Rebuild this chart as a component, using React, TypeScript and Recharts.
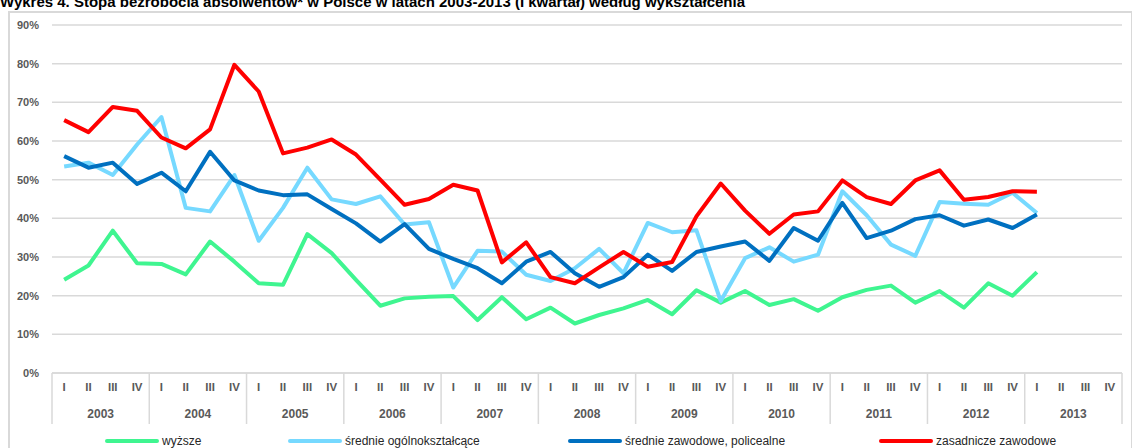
import { CartesianGrid, Line, LineChart, XAxis, YAxis } from 'recharts';

const years = ['2003', '2004', '2005', '2006', '2007', '2008', '2009', '2010', '2011', '2012', '2013'];
const quarters = ['I', 'II', 'III', 'IV'];
const yTicks = [0, 10, 20, 30, 40, 50, 60, 70, 80, 90];

// stopa bezrobocia absolwentów, % (do I kw. 2013)
const wyzsze = [
  24.1, 27.8, 36.8, 28.4, 28.2, 25.5, 34.0, 28.8, 23.2, 22.8, 35.9, 31.0, 24.1, 17.4, 19.3, 19.7,
  19.9, 13.7, 19.6, 13.9, 16.9, 12.8, 15.0, 16.7, 18.9, 15.2, 21.4, 18.2, 21.2, 17.6, 19.1, 16.1,
  19.6, 21.5, 22.6, 18.2, 21.2, 16.9, 23.2, 20.0, 26.1,
];
const srednieOgolne = [
  53.4, 54.4, 51.2, 59.1, 66.2, 42.7, 41.8, 51.2, 34.2, 42.7, 53.1, 44.9, 43.7, 45.7, 38.4, 39.0,
  22.1, 31.6, 31.4, 25.4, 23.8, 27.1, 32.1, 25.8, 38.8, 36.4, 36.9, 18.6, 29.7, 32.5, 28.8, 30.6,
  47.0, 40.8, 33.2, 30.3, 44.2, 43.8, 43.5, 46.6, 41.4,
];
const srednieZawodowe = [
  56.1, 53.1, 54.4, 48.9, 51.8, 47.0, 57.2, 49.8, 47.2, 46.0, 46.2, 42.4, 38.7, 34.0, 38.5, 32.1,
  29.5, 27.1, 23.2, 28.8, 31.3, 25.8, 22.3, 24.8, 30.6, 26.4, 31.3, 32.7, 34.0, 29.0, 37.5, 34.2,
  44.0, 34.9, 36.8, 39.8, 40.8, 38.1, 39.7, 37.5, 41.0,
];
const zasadnicze = [
  65.4, 62.3, 68.8, 67.8, 60.9, 58.1, 63.0, 79.7, 72.8, 56.8, 58.3, 60.4, 56.5, 50.0, 43.5, 45.0,
  48.7, 47.2, 28.6, 33.8, 24.8, 23.2, 27.3, 31.3, 27.5, 28.7, 40.5, 49.0, 42.0, 36.0, 41.0, 41.8,
  49.8, 45.5, 43.7, 49.8, 52.4, 44.8, 45.5, 47.0, 46.9,
];

const series = [
  { key: 'wyzsze', name: 'wyższe', color: '#3ff590', values: wyzsze, legendX: 105 },
  { key: 'srOg', name: 'średnie ogólnokształcące', color: '#76d9ff', values: srednieOgolne, legendX: 288 },
  { key: 'srZaw', name: 'średnie zawodowe, policealne', color: '#0070c0', values: srednieZawodowe, legendX: 568 },
  { key: 'zas', name: 'zasadnicze zawodowe', color: '#ff0000', values: zasadnicze, legendX: 879 },
];

const data = years.flatMap((year, yi) =>
  quarters.map((q, qi) => {
    const i = yi * 4 + qi;
    const row: Record<string, string | number | null> = { id: `${year}-${q}`, year, q };
    series.forEach((s) => {
      row[s.key] = s.values[i] ?? null;
    });
    return row;
  })
);

const GRID = '#d9d9d9';
const LABEL = '#595959';
const NARROW = '"Liberation Sans Narrow", "Arial Narrow", "Liberation Sans", Arial, sans-serif';
const SANS = '"Liberation Sans", Arial, sans-serif';

function QuarterTick(props: any) {
  const { x, y, payload, index } = props;
  const half = payload?.offset || 1070 / 88;
  const row = data[index];
  const qi = index % 4;
  return (
    <g>
      <text x={x} y={y + 18} textAnchor="middle" fill={LABEL} fontSize={11.5} fontWeight="bold" fontFamily={NARROW}>
        {row.q}
      </text>
      {qi === 0 && <line x1={x - half} x2={x - half} y1={y} y2={y + 51} stroke={GRID} strokeWidth={1.5} />}
      {index === data.length - 1 && (
        <line x1={x + half} x2={x + half} y1={y} y2={y + 51} stroke={GRID} strokeWidth={1.5} />
      )}
      {qi === 0 && (
        <text x={x + 3 * half} y={y + 45} textAnchor="middle" fill={LABEL} fontSize={12} fontWeight="bold" fontFamily={NARROW}>
          {row.year}
        </text>
      )}
    </g>
  );
}

export default function App() {
  return (
    <div style={{ position: 'absolute', left: 0, top: 0, width: 1132, height: 448, overflow: 'hidden', background: '#fff' }}>
      <div
        style={{
          position: 'absolute',
          left: 8,
          top: 11,
          width: 1121,
          height: 460,
          border: `2px solid ${GRID}`,
        }}
      />
      <div
        style={{
          position: 'absolute',
          left: 0,
          top: -6,
          fontFamily: SANS,
          fontWeight: 'bold',
          fontSize: 15,
          lineHeight: '15px',
          color: '#000',
          whiteSpace: 'nowrap',
        }}
      >
        Wykres 4. Stopa bezrobocia absolwentów* w Polsce w latach 2003-2013 (I kwartał) według wykształcenia
      </div>
      <div style={{ position: 'absolute', left: 0, top: 0 }}>
        <LineChart width={1132} height={448} data={data} margin={{ top: 25, right: 10, left: 0, bottom: 25 }}>
          <CartesianGrid vertical={false} stroke={GRID} strokeWidth={1.5} />
          <XAxis
            dataKey="id"
            scale="band"
            interval={0}
            height={50}
            tickLine={false}
            tickSize={0}
            tickMargin={0}
            axisLine={{ stroke: GRID, strokeWidth: 1.5 }}
            tick={<QuarterTick />}
          />
          <YAxis
            width={52}
            domain={[0, 90]}
            ticks={yTicks}
            tickFormatter={(v) => `${v}%`}
            axisLine={false}
            tickLine={false}
            tickSize={0}
            tickMargin={13}
            tick={{ fill: LABEL, fontSize: 11, fontWeight: 'bold', fontFamily: SANS }}
          />
          {series.map((s) => (
            <Line
              key={s.key}
              dataKey={s.key}
              name={s.name}
              stroke={s.color}
              strokeWidth={4}
              strokeLinejoin="round"
              dot={false}
              activeDot={false}
              isAnimationActive={false}
            />
          ))}
        </LineChart>
      </div>
      {series.map((s) => (
        <div
          key={s.key}
          style={{
            position: 'absolute',
            left: s.legendX,
            top: 433,
            height: 16,
            display: 'flex',
            alignItems: 'center',
            fontFamily: SANS,
            fontSize: 12,
            color: '#262626',
            whiteSpace: 'nowrap',
          }}
        >
          <span style={{ display: 'inline-block', width: 54, height: 4, borderRadius: 2, background: s.color, marginRight: 3 }} />
          {s.name}
        </div>
      ))}
    </div>
  );
}
